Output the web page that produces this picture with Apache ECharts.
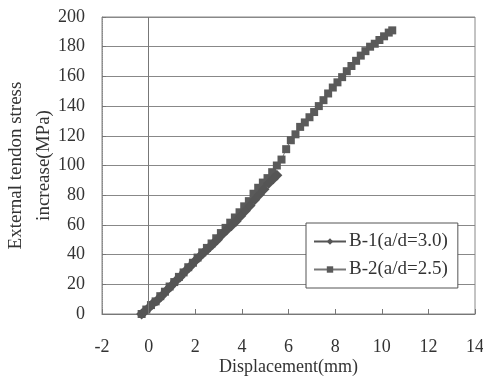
<!DOCTYPE html>
<html>
<head>
<meta charset="utf-8">
<script src="https://cdn.jsdelivr.net/npm/echarts@6/dist/echarts.min.js"></script>
<style>html,body{margin:0;padding:0;background:#fff}#c{width:483px;height:380px}</style>
</head>
<body>
<div id="c"></div>
<script>
var xTicks = [-2, 0, 2, 4, 6, 8, 10, 12, 14];
var yTicks = [0, 20, 40, 60, 80, 100, 120, 140, 160, 180, 200];
var seriesNames = ['B-1(a/d=3.0)', 'B-2(a/d=2.5)'];

var b1X = [-0.30,-0.15,0.00,0.15,0.35,0.55,0.75,0.95,1.15,1.35,1.55,1.75,1.95,2.15,2.35,2.55,2.75,2.95,3.15,3.35,3.55,3.75,3.95,4.15,4.35,4.55,4.75,4.95,5.15,5.35,5.50];
var b1Y = [0,2,4,6.5,9,12,15.5,18.5,22,25,28.5,31.5,35,38,41,44,47,50,53.5,56.5,59.5,62.5,66,69.5,73,77,80.5,84,88,91,93.5];

var b2X = [-0.30,-0.10,0.10,0.30,0.50,0.70,0.90,1.10,1.30,1.50,1.70,1.90,2.10,2.30,2.50,2.70,2.90,3.10,3.30,3.50,3.70,3.90,4.10,4.30,4.50,4.70,4.90,5.10,5.30,5.50,5.70,5.90,6.10,6.30,6.50,6.70,6.90,7.10,7.30,7.50,7.70,7.90,8.10,8.30,8.50,8.70,8.90,9.10,9.30,9.50,9.70,9.90,10.10,10.30,10.45];
var b2Y = [0,3,6,8.5,12,15,18.5,21.5,25,28,31.5,34.5,38,41.5,44.5,47.5,51,54.5,58,61.5,65,68.5,72.5,76,81,85,88.5,91.5,95.5,100,104,111,117,121,126,129,132.5,136,140,144,148.5,152.5,156,159.5,163.5,167,170.5,174,177,180,182,184.5,187,189.5,191];

function pairs(xs, ys){ return xs.map(function(x,i){return [x, ys[i]];}); }

var font = '"Liberation Serif","Times New Roman",serif';
var chart = echarts.init(document.getElementById('c'));
chart.setOption({
  animation: false,
  backgroundColor: '#fff',
  textStyle: {fontFamily: font},
  grid: {left: 102, right: 8, top: 17, bottom: 66, containLabel: false, outerBoundsMode: 'none',
    show: true, borderColor: '#888', borderWidth: 1, backgroundColor: 'transparent'},
  xAxis: {
    type: 'value', min: xTicks[0], max: xTicks[xTicks.length-1], interval: 2,
    name: 'Displacement(mm)', nameLocation: 'middle', nameGap: 44, nameMoveOverlap: false,
    nameTextStyle: {fontFamily: font, fontSize: 18, color: '#333'},
    axisLine: {show: true, onZero: false, lineStyle: {color: '#777'}},
    axisTick: {show: true, inside: true, length: 5, lineStyle: {color: '#777'}},
    axisLabel: {fontFamily: font, fontSize: 18, color: '#333', margin: 24},
    splitLine: {show: false}
  },
  yAxis: {
    type: 'value', min: yTicks[0], max: yTicks[yTicks.length-1], interval: 20,
    name: 'External tendon stress\nincrease(MPa)', nameLocation: 'middle', nameGap: 44, nameRotate: 90,
    nameMoveOverlap: false,
    nameTextStyle: {fontFamily: font, fontSize: 19, color: '#333', lineHeight: 28},
    axisLine: {show: true, onZero: false, lineStyle: {color: '#888', type: 'dotted'}},
    axisTick: {show: true, inside: true, length: 4, lineStyle: {color: '#777'}},
    axisLabel: {fontFamily: font, fontSize: 18, color: '#333', margin: 17},
    splitLine: {show: true, lineStyle: {color: '#888', width: 1}}
  },
  legend: {
    orient: 'vertical', left: 306, top: 223,
    backgroundColor: '#fff', borderColor: '#555', borderWidth: 1,
    padding: [9, 10, 9, 7], itemGap: 9, itemWidth: 32, itemHeight: 8,
    textStyle: {fontFamily: font, fontSize: 19, color: '#333', padding: [0,0,0,-2]},
    data: seriesNames
  },
  series: [
    {
      name: seriesNames[0], type: 'line', data: pairs(b1X, b1Y),
      symbol: 'diamond', symbolSize: 11,
      itemStyle: {color: '#555'}, lineStyle: {color: '#555', width: 1},
      markLine: {silent: true, symbol: 'none', label: {show: false},
        lineStyle: {color: '#777', type: 'solid', width: 1}, data: [{xAxis: 0}]},
      z: 3
    },
    {
      name: seriesNames[1], type: 'line', data: pairs(b2X, b2Y),
      symbol: 'rect', symbolSize: 8,
      itemStyle: {color: '#5a5a5a'}, lineStyle: {color: '#777', width: 1},
      z: 2
    }
  ]
});
</script>
</body>
</html>
